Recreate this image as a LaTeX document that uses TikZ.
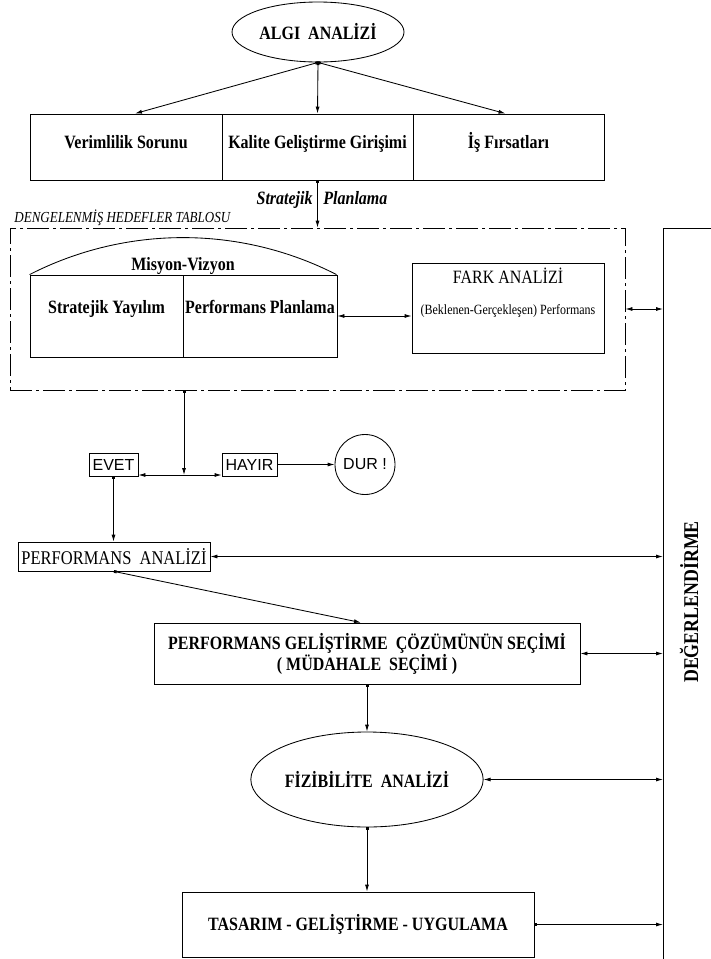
\documentclass[tikz,border=0pt]{standalone}
\usepackage{fontspec}
\setmainfont[FakeStretch=0.85]{Liberation Serif}
\newfontfamily\cadfont{Liberation Sans}
\usetikzlibrary{arrows.meta,shapes.geometric}

\tikzset{
  frame/.style={draw, rectangle, inner sep=0pt},
  oval/.style={draw, ellipse, inner sep=0pt},
  bt/.style={font=\fontsize{18.8}{20}\selectfont\bfseries},
  bit/.style={font=\fontsize{18.8}{20}\selectfont\bfseries\itshape},
  rt/.style={font=\fontsize{18.8}{20}\selectfont},
  cad/.style={font=\cadfont\fontsize{16}{18}\selectfont},
  fw/.style={-{Latex[length=7pt,width=4pt]}},
  dfw/.style={{Square[length=2.8pt,width=2.8pt]}-{Latex[length=7pt,width=4pt]}},
  bw/.style={{Latex[length=7pt,width=4pt]}-{Latex[length=7pt,width=4pt]}},
  dashdot/.style={dash pattern=on 22pt off 4pt on 3pt off 4pt},
}

\begin{document}
\begin{tikzpicture}[x=1pt, y=-1pt, line width=0.85pt, every node/.style={inner sep=0pt}]
\useasboundingbox (0,0) rectangle (711,959);

% --- top: perception analysis and its three sources
\node[oval, minimum width=172, minimum height=60, bt] (algi) at (318,32) {ALGI~~ANAL\.{I}Z\.{I}};

\node[frame, minimum width=192, minimum height=66] (ver) at (126,147) {};
\node[frame, minimum width=191, minimum height=66] (kal) at (317.5,147) {};
\node[frame, minimum width=191, minimum height=66] (isf) at (508.5,147) {};
\node[bt, anchor=base] (tver) at (126,148) {Verimlilik Sorunu};
\node[bt, anchor=base] (tkal) at (317.5,148) {Kalite Geliştirme Girişimi};
\node[bt, anchor=base] (tisf) at (508.5,148) {İş Fırsatları};

\draw[dfw] (algi.south) -- ([xshift=9]ver.north);
\draw[dfw] (algi.south) -- (kal.north);
\draw[dfw] (algi.south) -- ([xshift=-3]isf.north);

\node[bit, anchor=base east] (sp1) at (313,204) {Stratejik};
\node[bit, anchor=base west] (sp2) at (323,204) {Planlama};

% --- balanced scorecard frame
\node[frame, dashdot, minimum width=615, minimum height=162] (dhb) at (317.5,309) {};
\node[anchor=base west, font=\fontsize{15.3}{17}\selectfont\itshape] (dlbl) at (14,222) {DENGELENMİŞ HEDEFLER TABLOSU};
\draw[dfw] (kal.south) -- (dhb.north);

\node[frame, minimum width=153, minimum height=82] (sy) at (106.5,316) {};
\node[frame, minimum width=154, minimum height=82] (pp) at (260,316) {};
\draw (sy.north west) arc[start angle=-117.1, end angle=-62.9, radius=336.9];
\node[bt, anchor=base] (tmv) at (183,270) {Misyon-Vizyon};
\node[bt, anchor=base] (tsy) at (106.5,313) {Stratejik Yayılım};
\node[bt, anchor=base] (tpp) at (260,313) {Performans Planlama};

\node[frame, minimum width=192, minimum height=90] (fark) at (508,308) {};
\node[rt, anchor=base] (tfark1) at (508,283) {FARK ANAL\.{I}Z\.{I}};
\node[anchor=base, font=\fontsize{14.1}{16}\selectfont] (tfark2) at (508,314) {(Beklenen-Gerçekleşen) Performans};
\draw[bw] (pp.east) -- (pp.east -| fark.west);

% --- evaluation column on the right
\coordinate (degL) at (663,228);
\draw (663,960) -- (degL) -- (712,228);
\node[rotate=90, font=\fontsize{21}{23}\selectfont\bfseries] (tdeg) at (689,602) {DEĞERLEND\.{I}RME};
\draw[bw] (dhb.east) -- (dhb.east -| degL);

% --- decision
\coordinate (jtop) at (184,390);
\coordinate (junc) at (184,475);
\node[frame, minimum width=49, minimum height=23, cad] (evet) at (113.5,464.5) {EVET};
\node[frame, minimum width=55, minimum height=23, cad] (hayir) at (249.5,464.5) {HAYIR};
\node[draw, circle, minimum size=60, cad] (dur) at (365,464.5) {DUR !};
\draw[dfw] (jtop) -- (junc);
\draw[fw] (junc) -- (junc -| evet.east);
\draw[fw] (junc) -- (junc -| hayir.west);
\draw[fw] (hayir.east) -- (dur.west);

% --- analysis chain
\node[frame, minimum width=192, minimum height=29, font=\fontsize{19.4}{20}\selectfont] (pa) at (114,556.5) {PERFORMANS~~ANAL\.{I}Z\.{I}};
\draw[dfw] (evet.south) -- (evet.south |- pa.north);
\draw[bw] (pa.east) -- (pa.east -| degL);

\node[frame, minimum width=426, minimum height=61, bt, font=\fontsize{18.8}{18}\selectfont\bfseries, align=center] (pgcs) at (367,653.5)
  {PERFORMANS GEL\.{I}ŞT\.{I}RME~~ÇÖZÜMÜNÜN SEÇ\.{I}M\.{I}\\( MÜDAHALE~~SEÇ\.{I}M\.{I} )};
\draw[dfw] (pa.south) -- ([xshift=-6]pgcs.north);
\draw[bw] (pgcs.east) -- (pgcs.east -| degL);

\node[oval, minimum width=219, minimum height=95, bt] (fa) at (367,779.5) {F\.{I}Z\.{I}B\.{I}L\.{I}TE~~ANAL\.{I}Z\.{I}};
\draw[dfw] (pgcs.south) -- (fa.north);
\draw[bw] (fa.east) -- (fa.east -| degL);

\node[frame, minimum width=352, minimum height=65, bt] (tgu) at (358,924.5) {TASARIM - GEL\.{I}ŞT\.{I}RME - UYGULAMA};
\draw[dfw] (fa.south) -- (fa.south |- tgu.north);
\draw[dfw] (tgu.east) -- (tgu.east -| degL);
\end{tikzpicture}
\end{document}
